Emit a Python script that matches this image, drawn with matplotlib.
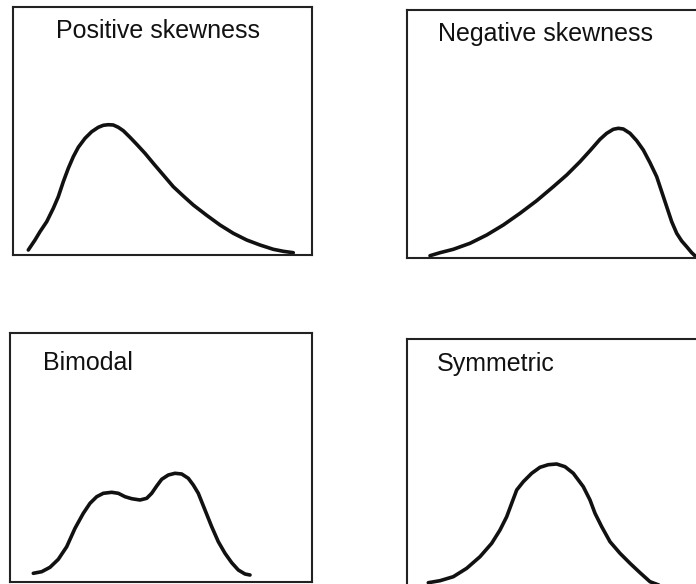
import matplotlib.pyplot as plt

# figure is 696x584 px; panels are given in pixels (left, top, width, height)
W, H = 696, 584

titles = ["Positive skewness", "Negative skewness", "Bimodal", "Symmetric"]
panels = [(13, 7, 299, 248), (407, 10, 300, 248), (10, 333, 302, 249), (407, 339, 300, 249)]
title_pos = [(43, 217), (31, 217), (33, 212), (30, 217)]

# curve points, in pixels from each panel's lower-left corner
pos_x = [15.3, 22, 27, 33.7, 40.3, 45.3, 50.3, 55.3, 60.3, 65.3, 72, 78.7, 85.3, 90.3, 95.3,
         100.3, 105.3, 110.3, 117, 123.7, 132, 140.3, 150.3, 160.3, 170.3, 180.3, 193.7,
         207, 220.3, 233.7, 247, 260.3, 270.3, 280.3]
pos_y = [5, 15, 23.3, 33.3, 46.7, 58.3, 73.3, 86.7, 98.3, 107.7, 116.7, 123.3, 127.7, 129.7, 130.3,
         130, 127.7, 124.3, 117.7, 110.7, 101.7, 91.7, 80, 68.3, 59, 50, 39.7,
         30, 21.7, 15, 10, 5.7, 3.7, 2.3]

neg_x = [23, 33, 46.3, 63, 79.7, 96.3, 113, 129.7, 146.3, 159.7, 173, 183, 193, 199.7, 206.3,
         211.3, 216.3, 223, 229.7, 236.3, 243, 249.7, 254.7, 259.7, 264.7, 269.7, 274.7,
         279.7, 284.7, 289]
neg_y = [2.3, 5.3, 8.7, 14.7, 23, 33, 44.7, 57.3, 71.3, 83, 96.3, 107.3, 118.7, 124.7, 128.7,
         129.7, 129, 124.7, 117.3, 108, 95.3, 81.3, 66.3, 51.3, 36.3, 24.7, 17,
         11.3, 5.3, 1.3]

bim_x = [23.3, 31.7, 40, 48.3, 56.7, 65, 73.3, 80, 86.7, 93.3, 101.7, 108.3, 115, 121.7, 130,
         136.7, 141.7, 146.7, 151.7, 158.3, 165, 171.7, 178.3, 183.3, 188.3, 195, 201.7,
         208.3, 215, 221.7, 228.3, 235, 240]
bim_y = [8.7, 10.3, 14.7, 22.7, 35.3, 53.7, 68.7, 78.7, 85.3, 88.7, 89.7, 88.7, 85.3, 83.3, 82,
         83.7, 88.7, 96, 102.7, 107, 108.7, 108, 103.7, 97, 88.7, 72, 55.3,
         40.3, 28.7, 19.3, 12, 8, 7]

sym_x = [21.3, 33, 46.3, 59.7, 73, 84.7, 93, 99.7, 104.7, 109.7, 116.3, 124.7, 133, 141.3, 149.7,
         158, 166.3, 176.3, 183, 188, 194.7, 203, 213, 223, 233, 243, 265]
sym_y = [5.3, 7.3, 11.3, 19.7, 31.3, 44.7, 58, 71.3, 84.7, 98, 106.3, 114.7, 120.7, 123.3, 124,
         121.3, 114.7, 101.3, 88, 74.7, 61.3, 46.3, 34.7, 24.7, 15.3, 6.3, -2]

curves = [(pos_x, pos_y), (neg_x, neg_y), (bim_x, bim_y), (sym_x, sym_y)]

plt.rcParams['font.family'] = ['Liberation Sans', 'DejaVu Sans']

fig = plt.figure(figsize=(6.96, 5.84), dpi=100)

for (left, top, w, h), title, (tx, ty), (cx, cy) in zip(panels, titles, title_pos, curves):
    ax = fig.add_axes([left / W, 1 - (top + h) / H, w / W, h / H])
    ax.set_xlim(0, w)
    ax.set_ylim(0, h)
    ax.plot(cx, cy, color='#111111', lw=2.6, solid_joinstyle='round', solid_capstyle='round')
    ax.text(tx, ty, title, fontsize=18, color='#111111', ha='left', va='baseline')
    ax.set_xticks([])
    ax.set_yticks([])
    for s in ax.spines.values():
        s.set_linewidth(1.5)
        s.set_color('#222222')

fig.savefig("out.png", dpi=100)
